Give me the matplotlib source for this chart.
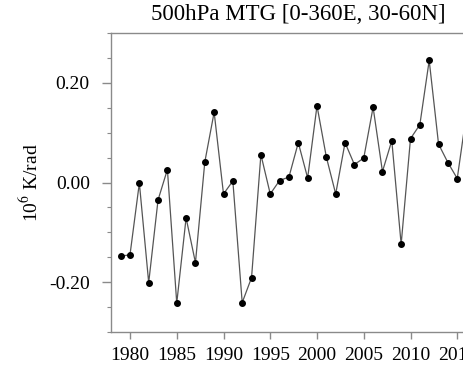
import matplotlib.pyplot as plt

# Yearly 500hPa MTG index
years = list(range(1979, 2017))
mtg = [-0.148, -0.145, -0.001, -0.201, -0.035, 0.026, -0.242, -0.071, -0.161, 0.041,
       0.141, -0.023, 0.003, -0.241, -0.191, 0.056, -0.023, 0.004, 0.011, 0.080,
       0.009, 0.154, 0.051, -0.023, 0.080, 0.036, 0.049, 0.151, 0.022, 0.084,
       -0.124, 0.088, 0.116, 0.245, 0.077, 0.040, 0.008, 0.140]

x_ticks = list(range(1980, 2020, 5))
y_ticks = [-0.2, 0.0, 0.2]
y_labels = ["-0.20", "0.00", "0.20"]

plt.rcParams['font.family'] = ['Liberation Serif', 'DejaVu Serif']
plt.rcParams['mathtext.fontset'] = 'stix'

fig = plt.figure(figsize=(4.64, 3.66), dpi=100)
# axes runs past the right edge of the picture, as in the original crop
ax = fig.add_axes([111.3 / 464, 1 - 332 / 366, 374 / 464, 299 / 366])

ax.plot(years, mtg, color='#555555', linewidth=0.9, marker='o',
        markersize=4, markerfacecolor='black', markeredgecolor='black', zorder=3)

ax.set_xlim(1978, 2018)
ax.set_ylim(-0.3, 0.3)
ax.set_xticks(x_ticks)
ax.set_yticks(y_ticks)
ax.set_yticklabels(y_labels)
ax.set_yticks([-0.3 + 0.05 * i for i in range(13)], minor=True)

spine_col = '#8a8a8a'
for s in ax.spines.values():
    s.set_color(spine_col)
    s.set_linewidth(1.0)

ax.tick_params(axis='x', direction='out', length=5, width=1, color=spine_col,
               labelsize=14, pad=6)
ax.tick_params(axis='y', which='major', direction='out', length=6.5, width=1,
               color=spine_col, labelsize=14, pad=9)
ax.tick_params(axis='y', which='minor', direction='out', length=3, width=0.8,
               color=spine_col)

ax.set_ylabel(r'10$^{6}$ K/rad', fontsize=14, labelpad=5)
ax.set_title('500hPa MTG [0-360E, 30-60N]', fontsize=16.5, pad=9)

fig.savefig('out.png', dpi=100)
